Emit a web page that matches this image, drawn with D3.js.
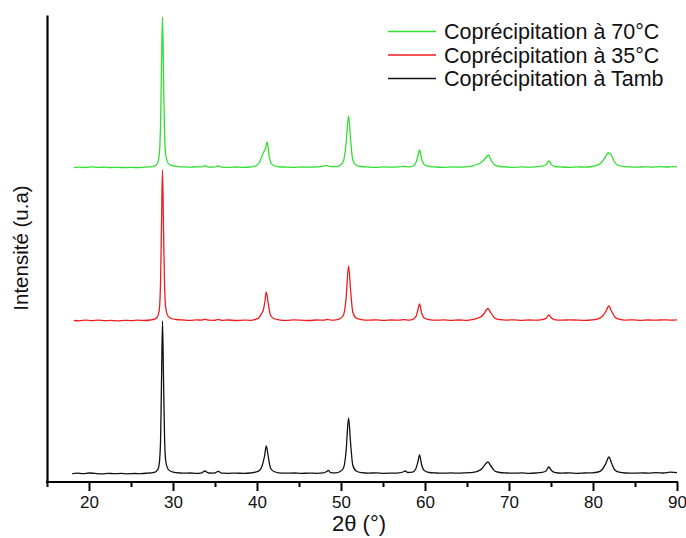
<!DOCTYPE html>
<html>
<head>
<meta charset="utf-8">
<script src="https://cdn.jsdelivr.net/npm/d3@7"></script>
<style>
  html, body { margin: 0; padding: 0; background: #ffffff; }
  svg { display: block; font-family: Arial, "Liberation Sans", sans-serif; }
</style>
</head>
<body>
<svg id="chart" width="686" height="538"></svg>
<script>
// ---- Data ----
const seriesNames = ["Coprécipitation à 70°C", "Coprécipitation à 35°C", "Coprécipitation à Tamb"];
const seriesColors = ["#2fe02f", "#ee1c1c", "#111111"];
const seriesOffsets = [314, 161, 8];           // vertical stacking offsets (a.u.)
const xTickValues = [20, 30, 40, 50, 60, 70, 80, 90];
const xMinorTickValues = [15, 25, 35, 45, 55, 65, 75, 85];

const tambPattern = [[18.0,0.3],[18.6,0.8],[19.3,0.4],[20,1.0],[20.7,0.6],[21.5,0.2],[22.3,0.7],[23,0.3],[23.8,0.6],[24.6,0.2],[25.4,0.5],[26.2,0.4],[27,0.9],[27.6,1.4],[28.0,2.5],[28.3,7],[28.5,28],[28.62,85],[28.75,153],[28.88,90],[29.0,35],[29.15,12],[29.4,5],[29.8,2.5],[30.4,1.3],[31.2,0.8],[32,1.0],[32.8,0.6],[33.4,1.2],[33.8,3.0],[34.2,1.0],[34.9,0.9],[35.4,2.6],[35.8,0.8],[36.6,0.7],[37.5,0.9],[38.4,0.6],[39.2,1.0],[39.8,1.8],[40.3,3.5],[40.6,8],[40.9,18],[41.1,28],[41.35,17],[41.6,6],[42.0,2.5],[42.6,1.2],[43.5,0.8],[44.4,1.0],[45.3,0.6],[46.2,0.9],[47.1,0.7],[47.9,1.1],[48.25,2.2],[48.5,3.6],[48.75,1.4],[49.4,1.2],[49.9,2.5],[50.3,6],[50.6,22],[50.9,56],[51.15,30],[51.4,9],[51.8,3],[52.4,1.4],[53.3,0.9],[54.2,1.1],[55.1,0.7],[56,0.9],[56.9,1.2],[57.4,2],[57.65,3],[57.95,1.5],[58.5,1.8],[58.9,5],[59.15,12],[59.35,19],[59.6,9],[59.9,3.5],[60.5,1.5],[61.3,1],[62.2,0.8],[63.1,1.1],[64,0.8],[64.9,1.2],[65.7,1.6],[66.3,2.8],[66.8,5.5],[67.2,10],[67.5,12],[67.85,8],[68.3,3],[68.9,1.5],[69.7,1],[70.6,0.8],[71.5,1.1],[72.4,0.7],[73.2,1],[73.9,1.6],[74.4,3],[74.75,7],[75.05,3.5],[75.5,1.4],[76.3,0.9],[77.2,1.1],[78.1,0.7],[79,1],[79.9,1.2],[80.6,2],[81.1,4.5],[81.5,10],[81.9,17],[82.2,11],[82.6,4],[83.1,1.8],[83.9,1],[84.8,0.8],[85.7,1.1],[86.6,0.9],[87.5,1.3],[88.4,1],[89.2,1.8],[90,1.4]];

const t35Pattern = [[18.2,0.5],[18.9,0.2],[19.6,0.9],[20.3,0.4],[21.1,0.8],[21.9,0.3],[22.6,0.6],[23.4,0.2],[24.2,0.7],[25,0.4],[25.8,0.8],[26.6,0.5],[27.3,1.0],[27.8,1.8],[28.1,3.5],[28.35,10],[28.52,40],[28.64,100],[28.75,151],[28.88,88],[29.0,34],[29.15,12],[29.4,5],[29.8,2.5],[30.4,1.5],[31.2,1],[32,0.6],[32.8,1.1],[33.4,0.9],[33.8,1.8],[34.2,0.8],[34.9,0.7],[35.4,1.7],[35.8,0.6],[36.6,1],[37.5,0.5],[38.4,0.9],[39.2,0.7],[39.8,1.6],[40.2,3],[40.5,7],[40.75,11],[40.95,20],[41.1,29],[41.35,17],[41.6,6],[42.0,2.5],[42.6,1.2],[43.5,0.6],[44.4,1.1],[45.3,0.8],[46.2,0.5],[47.1,1],[47.9,0.8],[48.4,1.6],[48.8,0.9],[49.4,1.2],[49.9,2.5],[50.3,6],[50.6,22],[50.9,55],[51.15,30],[51.4,9],[51.8,3],[52.4,1.4],[53.3,0.8],[54.2,1.2],[55.1,0.6],[56,1],[56.9,0.8],[57.5,1.3],[58.1,0.9],[58.6,1.8],[58.95,5],[59.15,11],[59.35,17],[59.6,8],[59.9,3],[60.5,1.4],[61.3,0.8],[62.2,1.1],[63.1,0.6],[64,1],[64.9,0.7],[65.6,1.3],[66.2,2.6],[66.6,4],[67.0,7],[67.3,11],[67.5,12.5],[67.85,8],[68.3,3],[68.9,1.3],[69.7,0.9],[70.6,1.2],[71.5,0.7],[72.4,1],[73.2,0.8],[73.9,1.4],[74.4,2.6],[74.75,6],[75.05,3],[75.5,1.2],[76.3,0.8],[77.2,1.2],[78.1,0.9],[79,0.6],[79.9,1.1],[80.6,2.2],[81.1,4.5],[81.5,9],[81.9,15],[82.2,10],[82.6,4],[83.1,1.8],[83.9,0.9],[84.8,1.2],[85.7,0.7],[86.6,1],[87.5,0.8],[88.4,1.2],[89.2,0.9],[90,1.1]];

const t70Pattern = [[18.2,0.4],[18.9,0.8],[19.6,0.5],[20.3,1.1],[21.1,0.6],[21.9,0.9],[22.6,0.4],[23.4,0.7],[24.2,0.3],[25,0.6],[25.8,0.4],[26.6,0.8],[27.3,1.1],[27.8,1.9],[28.1,4],[28.35,12],[28.52,45],[28.64,105],[28.75,151],[28.88,88],[29.0,34],[29.15,12],[29.4,5],[29.8,2.6],[30.4,1.6],[31.2,1.1],[32,0.8],[32.8,1.2],[33.4,1.1],[33.8,2.3],[34.2,0.9],[34.9,0.8],[35.4,2.2],[35.8,0.9],[36.6,0.7],[37.5,1],[38.4,0.6],[39.2,1],[39.8,2],[40.2,4.5],[40.5,10],[40.8,16],[41.0,19],[41.2,26],[41.45,12],[41.7,4.5],[42.1,2],[42.6,1.2],[43.5,0.9],[44.4,0.6],[45.3,1],[46.2,0.8],[47.1,1.1],[47.8,1.6],[48.3,2.6],[48.7,1.4],[49.4,1.3],[49.9,2.8],[50.3,7],[50.6,24],[50.9,52],[51.15,28],[51.4,8],[51.8,3],[52.4,1.5],[53.3,1],[54.2,0.7],[55.1,1.1],[56,0.8],[56.9,1.2],[57.5,1.6],[58.1,1.1],[58.6,2],[58.95,6],[59.15,12],[59.35,18],[59.6,9],[59.9,3.5],[60.5,1.6],[61.3,1],[62.2,0.7],[63.1,1.1],[64,0.8],[64.9,1.2],[65.6,1.8],[66.2,3.5],[66.6,5],[67.0,8],[67.3,11],[67.55,13],[67.85,8],[68.3,3],[68.9,1.5],[69.7,1],[70.6,0.7],[71.5,1.1],[72.4,0.8],[73.2,1.2],[73.9,1.8],[74.4,3.2],[74.75,7],[75.05,3.4],[75.5,1.5],[76.3,1],[77.2,0.7],[78.1,1.1],[79,0.9],[79.9,1.5],[80.5,2.8],[81.0,5.5],[81.4,10],[81.8,15],[82.1,14],[82.5,7],[82.9,3],[83.5,1.6],[84.3,1.1],[85.2,0.8],[86.1,1.2],[87,0.9],[87.9,1.3],[88.8,1],[89.5,1.4],[90,1.1]];

const patterns = [t70Pattern, t35Pattern, tambPattern];

// ---- Layout ----
const svg = d3.select("#chart");
const x = d3.scaleLinear().domain([15, 90]).range([47, 677]);
const y = d3.scaleLinear().domain([0, 467]).range([482, 15]);

// data lines
const line = d3.line()
  .x(d => x(d[0]))
  .curve(d3.curveMonotoneX);

patterns.forEach((pat, i) => {
  svg.append("path")
    .datum(pat)
    .attr("fill", "none")
    .attr("stroke", seriesColors[i])
    .attr("stroke-width", 1.3)
    .attr("stroke-linejoin", "round")
    .attr("d", line.y(d => y(d[1] + seriesOffsets[i])));
});

// x axis (major ticks with labels)
const xAxis = d3.axisBottom(x)
  .tickValues(xTickValues)
  .tickSize(9)
  .tickPadding(5)
  .tickSizeOuter(0)
  .tickFormat(d3.format("d"));
const gx = svg.append("g").attr("transform", "translate(0,482)").call(xAxis);
gx.select(".domain").attr("stroke", "#000").attr("stroke-width", 2.2)
  .attr("d", `M${x(15) - 1},0H${x(90) + 1}`);
gx.selectAll(".tick line").attr("stroke", "#000").attr("stroke-width", 2);
gx.selectAll(".tick text").attr("fill", "#111").style("font-size", "17px")
  .attr("font-family", "Arial, 'Liberation Sans', sans-serif");

// minor ticks
const xMinor = d3.axisBottom(x).tickValues(xMinorTickValues).tickSize(5).tickFormat("").tickSizeOuter(0);
const gm = svg.append("g").attr("transform", "translate(0,482)").call(xMinor);
gm.select(".domain").remove();
gm.selectAll(".tick line").attr("stroke", "#000").attr("stroke-width", 2);

// y axis (no ticks)
const yAxis = d3.axisLeft(y).tickValues([]).tickSizeOuter(0);
const gy = svg.append("g").attr("transform", "translate(47,0)").call(yAxis);
gy.select(".domain").attr("stroke", "#000").attr("stroke-width", 2.2);

// axis titles
svg.append("text")
  .attr("x", 359).attr("y", 531)
  .attr("text-anchor", "middle")
  .style("font-size", "22px").attr("fill", "#111")
  .text("2θ (°)");

svg.append("text")
  .attr("transform", "translate(28,248) rotate(-90)")
  .attr("text-anchor", "middle")
  .style("font-size", "20.5px").attr("fill", "#111")
  .text("Intensité (u.a)");

// legend
const legendY = [31.5, 55, 78.5];
seriesNames.forEach((name, i) => {
  svg.append("line")
    .attr("x1", 388).attr("x2", 436)
    .attr("y1", legendY[i]).attr("y2", legendY[i])
    .attr("stroke", seriesColors[i]).attr("stroke-width", 1.3);
  svg.append("text")
    .attr("x", 444).attr("y", legendY[i] + 7.5)
    .style("font-size", "21.5px").attr("fill", "#111")
    .text(name);
});
</script>
</body>
</html>
